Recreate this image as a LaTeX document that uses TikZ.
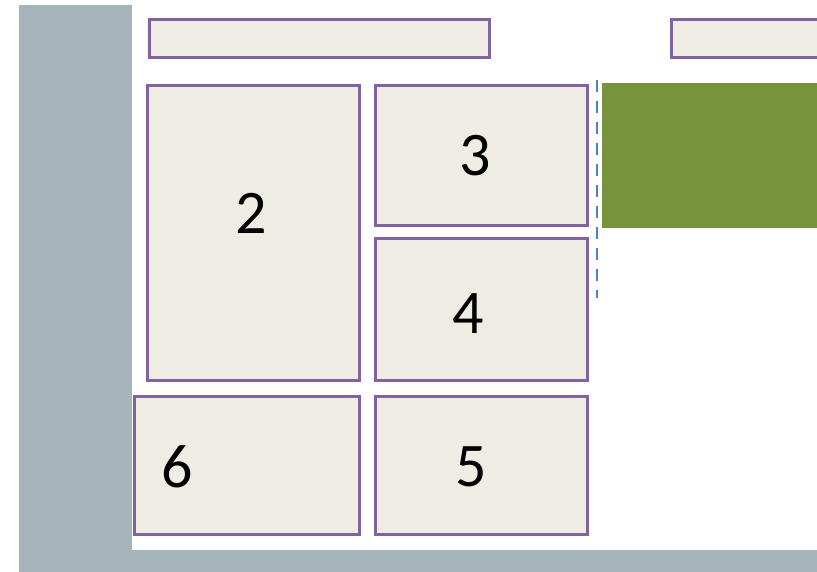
\documentclass[tikz,border=0pt]{standalone}
\usepackage{fontspec}
\setmainfont{Carlito}
\definecolor{bggray}{HTML}{A6B4BB}
\definecolor{boxpurple}{HTML}{8064A2}
\definecolor{boxfill}{HTML}{EFECE4}
\definecolor{leafgreen}{HTML}{77933C}
\definecolor{dashblue}{HTML}{4F81BD}
\begin{document}
\begin{tikzpicture}[x=1pt,y=-1pt,
  panel/.style={draw=boxpurple,fill=boxfill,line width=3pt,inner sep=0pt,outer sep=0pt,anchor=north west},
  numlabel/.style={font=\fontsize{62}{62}\selectfont,text=black,inner sep=0pt}]
\useasboundingbox (0,0) rectangle (817,572);
\fill[white] (0,0) rectangle (817,572);
\fill[bggray] (19,5) rectangle (132,572);
\fill[bggray] (19,550) rectangle (817,572);
% top bars
\node[panel,minimum width=340pt,minimum height=38pt] (top1) at (149.5,19.5) {};
\node[panel,minimum width=160pt,minimum height=38pt] (top2) at (671.5,19.5) {};
% boxes
\node[panel,minimum width=211.5pt,minimum height=294.5pt] (b2) at (147.5,85.5) {};
\node[panel,minimum width=212pt,minimum height=140.5pt] (b3) at (375,85.5) {};
\node[panel,minimum width=212pt,minimum height=141pt] (b4) at (375,239) {};
\node[panel,minimum width=212pt,minimum height=137.5pt] (b5) at (375,396.5) {};
\node[panel,minimum width=225pt,minimum height=137.5pt] (b6) at (134,396.5) {};
% green block
\fill[leafgreen] (602,83) rectangle (817,228);
% dashed separator
\coordinate (dtop) at (597,80);
\coordinate (dbot) at (597,298);
\draw[dashblue,line width=2pt,dash pattern=on 12pt off 9pt] (dtop) -- (dbot);
% labels
\node[numlabel] (l2) at (251,213) {2};
\node[numlabel] (l3) at (475,156) {3};
\node[numlabel] (l4) at (468,314) {4};
\node[numlabel] (l5) at (471,467) {5};
\node[numlabel] (l6) at (177,467) {6};
\end{tikzpicture}
\end{document}
